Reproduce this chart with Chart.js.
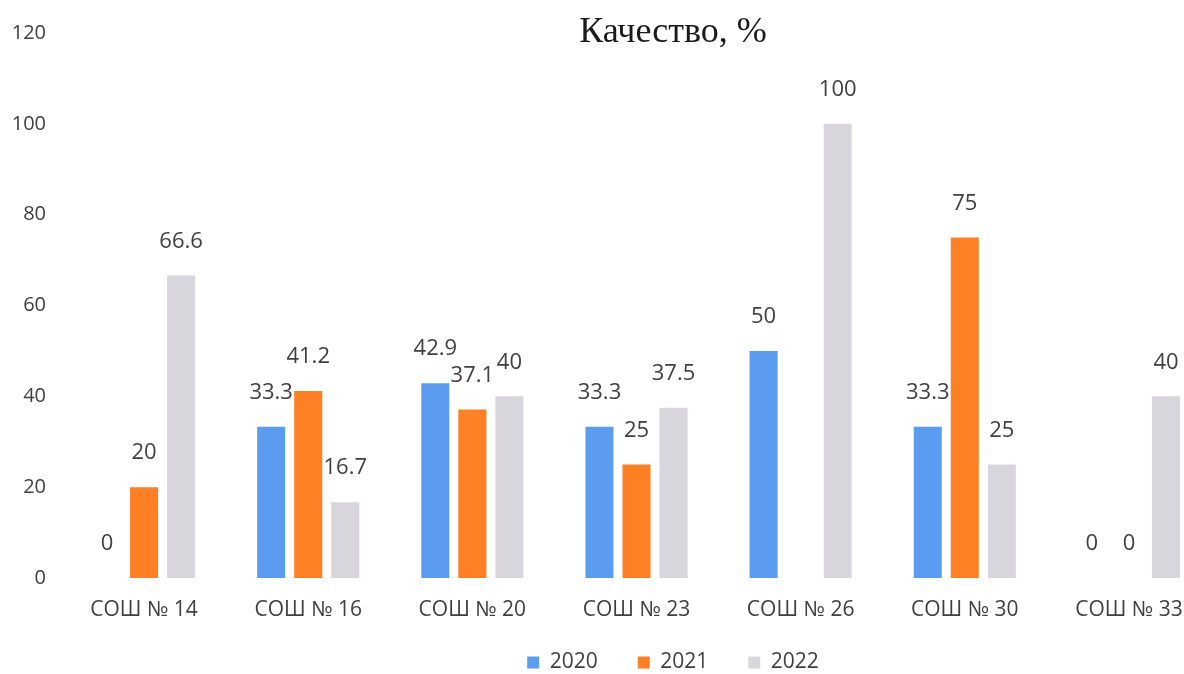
<!DOCTYPE html>
<html>
<head>
<meta charset="utf-8">
<script src="https://cdn.jsdelivr.net/npm/chart.js@4/dist/chart.umd.min.js"></script>
<style>
  html, body { margin: 0; padding: 0; background: #ffffff; overflow: hidden; width: 1184px; height: 674px; }
  #wrap { position: absolute; left: 0; top: 0; width: 1346px; height: 674px; }
</style>
</head>
<body>
<div id="wrap"><canvas id="c"></canvas></div>
<script>
const chartTitle = "Качество, %";
const categories = ["СОШ № 14", "СОШ № 16", "СОШ № 20", "СОШ № 23", "СОШ № 26", "СОШ № 30", "СОШ № 33"];
const seriesNames = ["2020", "2021", "2022"];
const values2020 = [0, 33.3, 42.9, 33.3, 50, 33.3, 0];
const values2021 = [20, 41.2, 37.1, 25, null, 75, 0];
const values2022 = [66.6, 16.7, 40, 37.5, 100, 25, 40];
const yTicks = [0, 20, 40, 60, 80, 100, 120];

const colors = ["#5b9cf0", "#ff7f24", "#d9d5dd"];
const textColor = "#404040";
const FONT = "'Open Sans', 'Noto Sans', sans-serif";

const valueLabels = {
  id: "valueLabels",
  afterDatasetsDraw(chart) {
    const ctx = chart.ctx;
    ctx.save();
    ctx.font = "22px " + FONT;
    ctx.fillStyle = textColor;
    ctx.textAlign = "center";
    ctx.textBaseline = "middle";
    chart.data.datasets.forEach((ds, di) => {
      const meta = chart.getDatasetMeta(di);
      meta.data.forEach((bar, i) => {
        const v = ds.data[i];
        if (v === null || v === undefined) return;
        ctx.fillText(String(v), bar.x, bar.y - 34);
      });
    });
    ctx.restore();
  }
};

const titlePlugin = {
  id: "titleText",
  afterDraw(chart) {
    const ctx = chart.ctx;
    ctx.save();
    ctx.font = "36px 'Liberation Serif', 'Times New Roman', serif";
    ctx.fillStyle = "#1a1a1a";
    ctx.textAlign = "center";
    ctx.textBaseline = "middle";
    ctx.fillText(chartTitle, chart.width / 2, 33);
    ctx.restore();
  }
};

new Chart(document.getElementById("c"), {
  type: "bar",
  data: {
    labels: categories,
    datasets: [
      { label: seriesNames[0], data: values2020, backgroundColor: colors[0] },
      { label: seriesNames[1], data: values2021, backgroundColor: colors[1] },
      { label: seriesNames[2], data: values2022, backgroundColor: colors[2] }
    ]
  },
  options: {
    responsive: true,
    maintainAspectRatio: false,
    animation: false,
    layout: { padding: { left: 0, right: 0, top: 33, bottom: -9 } },
    datasets: { bar: { categoryPercentage: 0.677, barPercentage: 0.757 } },
    plugins: {
      legend: {
        position: "bottom",
        labels: {
          boxWidth: 12, boxHeight: 12, padding: 40,
          color: textColor,
          font: { family: FONT, size: 21 }
        }
      },
      tooltip: { enabled: false },
      title: { display: false }
    },
    scales: {
      x: {
        afterFit(scale) {
          scale.height = 34;
          scale._computeLabelArea = function () { return undefined; };
        },
        grid: { display: false },
        border: { display: false },
        ticks: { color: textColor, font: { family: FONT, size: 21 }, padding: 11 }
      },
      y: {
        min: 0, max: 120,
        afterFit(scale) { scale.width = 62; },
        afterBuildTicks(scale) { scale.ticks = yTicks.map(v => ({ value: v })); },
        grid: { display: false },
        border: { display: false },
        ticks: { color: textColor, font: { family: FONT, size: 20 }, padding: 8 }
      },
      yRight: {
        position: "right",
        afterFit(scale) { scale.width = 135; },
        grid: { display: false },
        border: { display: false },
        ticks: { display: false }
      }
    }
  },
  plugins: [valueLabels, titlePlugin]
});
</script>
</body>
</html>
